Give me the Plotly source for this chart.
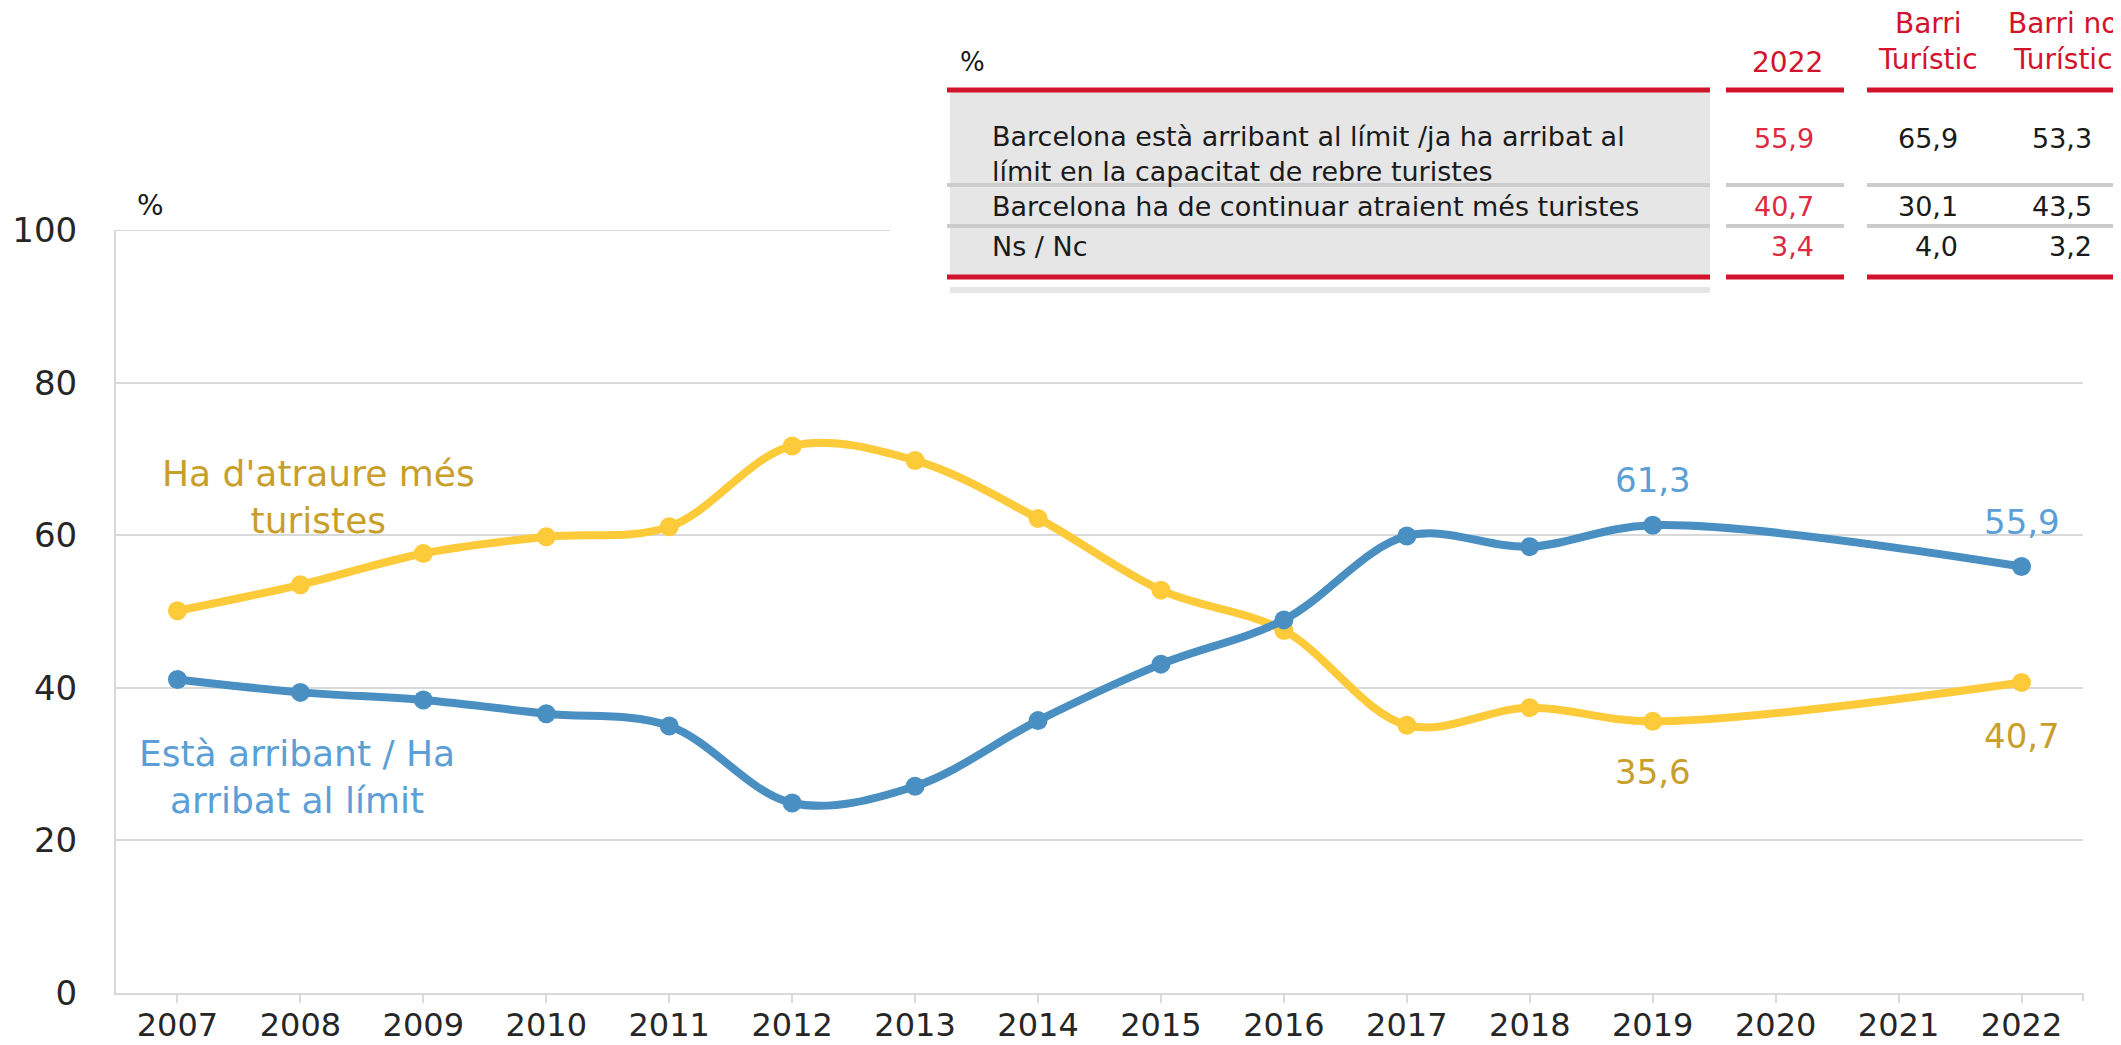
import plotly.graph_objects as go

# survey series: is Barcelona at its tourist limit or should it keep attracting tourists
years = [2007, 2008, 2009, 2010, 2011, 2012, 2013, 2014, 2015, 2016, 2017, 2018, 2019, 2022]
limit_vals = [41.1, 39.4, 38.4, 36.6, 35.0, 24.9, 27.1, 35.7, 43.1, 48.9, 59.9, 58.5, 61.3, 55.9]
attract_vals = [50.1, 53.5, 57.6, 59.8, 61.1, 71.7, 69.8, 62.2, 52.8, 47.5, 35.1, 37.4, 35.6, 40.7]
tick_years = list(range(2007, 2023))

# table in the top right corner
table_rows = [
    "Barcelona està arribant al límit /ja ha arribat al<br>límit en la capacitat de rebre turistes",
    "Barcelona ha de continuar atraient més turistes",
    "Ns / Nc",
]
col_2022 = ["55,9", "40,7", "3,4"]
col_barri_turistic = ["65,9", "30,1", "4,0"]
col_barri_no_turistic = ["53,3", "43,5", "3,2"]
col_headers = ["2022", "Barri<br>Turístic", "Barri no<br>Turístic"]

# the page body has an 8px margin, so the figure is made 8px smaller
OFF = 8
W, H = 2121 - OFF, 1045 - OFF
L, R, T, B = 116 - OFF, 38, 230 - OFF, 52
PW, PH = W - L - R, H - T - B

FONT = "DejaVu Sans"
BLUE = "#4a8fc2"
BLUE_TXT = "#5b9fd6"
YELLOW = "#fdca3a"
GOLD_TXT = "#c99e2a"
RED = "#d3122c"
GRID = "#d9d9d9"


# page pixel -> paper coordinates (for the table and labels)
def px(x):
    return (x - OFF - L) / PW


def py(y):
    return (H + OFF - B - y) / PH


def note(x, y, text, size, color, xanchor="center"):
    return dict(x=px(x), y=py(y), xref="paper", yref="paper", text=text, showarrow=False,
                xanchor=xanchor, yanchor="middle", align=xanchor if xanchor != "right" else "right",
                font=dict(family=FONT, size=size, color=color))


fig = go.Figure()

fig.add_trace(go.Scatter(
    x=years, y=attract_vals, mode="lines+markers",
    line=dict(color=YELLOW, width=8, shape="spline", smoothing=1),
    marker=dict(color=YELLOW, size=19), showlegend=False,
))
fig.add_trace(go.Scatter(
    x=years, y=limit_vals, mode="lines+markers",
    line=dict(color=BLUE, width=8, shape="spline", smoothing=1),
    marker=dict(color=BLUE, size=19), showlegend=False,
))

shapes = []
annotations = []

# top gridline (100) up to where the table starts
shapes.append(dict(type="line", xref="paper", yref="y", x0=0, x1=px(890), y0=100, y1=100,
                   line=dict(color=GRID, width=2), layer="below"))
# white box hiding the chart behind the table
shapes.append(dict(type="rect", xref="paper", yref="paper", x0=px(890), x1=px(2130),
                   y0=py(300), y1=py(-5), fillcolor="white", line=dict(width=0), layer="above"))
# grey label column
shapes.append(dict(type="rect", xref="paper", yref="paper", x0=px(950), x1=px(1710),
                   y0=py(277), y1=py(92), fillcolor="#e6e6e6", line=dict(width=0), layer="above"))
# grey strip under the table
shapes.append(dict(type="rect", xref="paper", yref="paper", x0=px(950), x1=px(1710),
                   y0=py(293), y1=py(287), fillcolor="#e6e6e6", line=dict(width=0), layer="above"))

segments = [(947, 1710), (1726, 1844), (1867, 2130)]
for x0, x1 in segments:
    for yy in (185, 226):
        shapes.append(dict(type="line", xref="paper", yref="paper", x0=px(x0), x1=px(x1),
                           y0=py(yy), y1=py(yy), line=dict(color="#cccccc", width=4), layer="above"))
    for yy in (90, 277):
        shapes.append(dict(type="line", xref="paper", yref="paper", x0=px(x0), x1=px(x1),
                           y0=py(yy), y1=py(yy), line=dict(color=RED, width=5), layer="above"))

# little end tick on the right of the x axis
shapes.append(dict(type="line", xref="paper", yref="paper", x0=1, x1=1, y0=0, y1=-8 / PH,
                   line=dict(color=GRID, width=2)))

# table texts
annotations.append(note(958, 62, "%", 26, "#1a1a1a", xanchor="left"))
header_x = [1787, 1928, 2063]
header_y = [62, 42, 42]
for hx, hy, htxt in zip(header_x, header_y, col_headers):
    annotations.append(note(hx, hy, htxt, 28, RED))

row_y = [154, 207, 247]
value_y = [138, 207, 247]
for i, label in enumerate(table_rows):
    annotations.append(note(990, row_y[i], label, 27, "#1a1a1a", xanchor="left"))
    for col, rx, colr in ((col_2022, 1816, "#dd2a40"), (col_barri_turistic, 1960, "#1a1a1a"),
                          (col_barri_no_turistic, 2094, "#1a1a1a")):
        annotations.append(note(rx, value_y[i], col[i], 27, colr, xanchor="right"))

# "%" above the y axis
annotations.append(note(150, 205, "%", 28, "#1a1a1a"))

# series labels
annotations.append(note(318, 497, "Ha d'atraure més<br>turistes", 36, GOLD_TXT))
annotations.append(note(297, 777, "Està arribant / Ha<br>arribat al límit", 36, BLUE_TXT))

# value labels on last points
for yr, shift in ((2019, 45), (2022, 44)):
    v = limit_vals[years.index(yr)]
    annotations.append(dict(x=yr, y=v, text=f"{v:.1f}".replace(".", ","), showarrow=False,
                            xanchor="center", yanchor="middle", yshift=shift,
                            font=dict(family=FONT, size=34, color=BLUE_TXT)))
for yr, shift in ((2019, -51), (2022, -54)):
    v = attract_vals[years.index(yr)]
    annotations.append(dict(x=yr, y=v, text=f"{v:.1f}".replace(".", ","), showarrow=False,
                            xanchor="center", yanchor="middle", yshift=shift,
                            font=dict(family=FONT, size=34, color=GOLD_TXT)))

fig.update_layout(
    width=W, height=H,
    margin=dict(l=L, r=R, t=T, b=B),
    paper_bgcolor="white", plot_bgcolor="white",
    shapes=shapes, annotations=annotations,
    font=dict(family=FONT, color="#262626"),
)

fig.update_xaxes(
    range=[2006.5, 2022.5], tickvals=tick_years, ticktext=[str(y) for y in tick_years],
    showgrid=False, zeroline=False, showline=True, linecolor=GRID, linewidth=2,
    ticks="outside", ticklen=8, tickwidth=2, tickcolor=GRID, automargin=False,
    ticklabelstandoff=-5,
    tickfont=dict(family=FONT, size=32, color="#262626"),
)
fig.update_yaxes(
    range=[0, 100], dtick=20, showgrid=True, gridcolor=GRID, gridwidth=2,
    zeroline=False, showline=True, linecolor=GRID, linewidth=2, automargin=False,
    ticks="", ticklabelstandoff=30,
    tickfont=dict(family=FONT, size=34, color="#262626"),
)

fig.write_html("out.html")
